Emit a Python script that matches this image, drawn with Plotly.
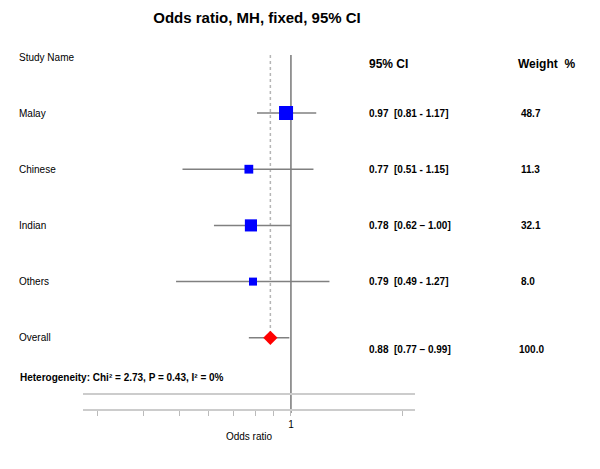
import math
import plotly.graph_objects as go

studies = ['Malay', 'Chinese', 'Indian', 'Others']
odds = [0.97, 0.77, 0.78, 0.79]
ci_low = [0.81, 0.51, 0.62, 0.49]
ci_high = [1.17, 1.15, 1.00, 1.27]
weights = [48.7, 11.3, 32.1, 8.0]

overall_or = 0.88
overall_low = 0.77
overall_high = 0.99
overall_weight = 100.0

ci_labels = ['0.97  [0.81 - 1.17]', '0.77  [0.51 - 1.15]', '0.78  [0.62 \u2013 1.00]', '0.79  [0.49 - 1.27]']
overall_ci_label = '0.88  [0.77 \u2013 0.99]'
heterogeneity = 'Heterogeneity: Chi\u00b2 = 2.73, P = 0.43, I\u00b2 = 0%'

tick_vals = [0.3, 0.4, 0.5, 0.6, 0.7, 0.8, 0.9, 1, 2]
tick_text = ['', '', '', '', '', '', '', '1', '']

FONT = 'Liberation Sans, Arial, sans-serif'
OFF = 8  # default body margin of the html page
W, H = 600 - OFF, 469 - OFF
L, R, B = 83 - OFF, 185, 60
PH = H - B  # plot height in px
ROW0, ROW_STEP = 113 - OFF, 56.2


def px_x(p):
    return (p - OFF - L) / (W - L - R)


def px_y(p):
    return 1 - (p - OFF) / PH


rows = list(range(len(studies)))
overall_row = len(studies)

fig = go.Figure()

# study estimates with CI lines
fig.add_trace(go.Scatter(
    x=odds, y=rows, mode='markers',
    marker=dict(symbol='square', color='#0000ff', opacity=1,
                size=[3.9 + 1.45 * math.sqrt(w) for w in weights], line=dict(width=0)),
    error_x=dict(type='data', symmetric=False,
                 array=[h - o for h, o in zip(ci_high, odds)],
                 arrayminus=[o - l for o, l in zip(odds, ci_low)],
                 color='#808080', thickness=1.5, width=0),
    showlegend=False, hoverinfo='skip'))

# overall diamond
fig.add_trace(go.Scatter(
    x=[overall_or], y=[overall_row], mode='markers',
    marker=dict(symbol='diamond', color='#ff0000', size=11, opacity=1, line=dict(width=0)),
    error_x=dict(type='data', symmetric=False,
                 array=[overall_high - overall_or], arrayminus=[overall_or - overall_low],
                 color='#808080', thickness=1.5, width=0),
    showlegend=False, hoverinfo='skip'))

# reference lines
fig.add_shape(type='line', xref='x', yref='paper', x0=overall_or, x1=overall_or,
              y0=px_y(55), y1=px_y(332), line=dict(color='#b5b5b5', width=1.5, dash='dot'), layer='below')
fig.add_shape(type='line', xref='x', yref='paper', x0=1, x1=1,
              y0=px_y(55), y1=px_y(413), line=dict(color='#555555', width=1.2), layer='below')
fig.add_shape(type='line', xref='paper', yref='paper', x0=0, x1=1,
              y0=px_y(394), y1=px_y(394), line=dict(color='#cccccc', width=2), layer='below')

ann = []
ann.append(dict(text='Study Name', x=px_x(17), y=px_y(57), font=dict(size=10)))
ann.append(dict(text='<b>95% CI</b>', x=px_x(367), y=px_y(64), font=dict(size=12)))
ann.append(dict(text='<b>Weight  %</b>', x=px_x(516), y=px_y(64), font=dict(size=12)))
for i, name in enumerate(studies + ['Overall']):
    ann.append(dict(text=name, x=px_x(17), y=i, yref='y', font=dict(size=10)))
for i, lab in enumerate(ci_labels):
    ann.append(dict(text='<b>' + lab + '</b>', x=px_x(367), y=i, yref='y', font=dict(size=10)))
    ann.append(dict(text='<b>%.1f</b>' % weights[i], x=px_x(519), y=i, yref='y', font=dict(size=10)))
ann.append(dict(text='<b>' + overall_ci_label + '</b>', x=px_x(367), y=overall_row, yref='y',
                yshift=-12, font=dict(size=10)))
ann.append(dict(text='<b>%.1f</b>' % overall_weight, x=px_x(517), y=overall_row, yref='y',
                yshift=-12, font=dict(size=10)))
ann.append(dict(text='<b>' + heterogeneity + '</b>', x=px_x(18), y=px_y(377), font=dict(size=10)))

for a in ann:
    a.setdefault('yref', 'paper')
    a.update(xref='paper', xanchor='left', yanchor='middle', showarrow=False)
    a['font'].update(color='black', family=FONT)

fig.update_layout(
    width=W, height=H,
    margin=dict(l=L, r=R, t=0, b=B),
    paper_bgcolor='white', plot_bgcolor='white',
    font=dict(family=FONT, color='black', size=10),
    title=dict(text='<b>Odds ratio, MH, fixed, 95% CI</b>', x=(257 - OFF) / W, xanchor='center',
               y=1 - (18 - OFF) / H, yanchor='middle', font=dict(size=15, color='black')),
    annotations=ann,
    xaxis=dict(type='log', range=[math.log10(0.275), math.log10(2.16)],
               tickvals=tick_vals, ticktext=tick_text, ticks='outside', ticklen=5,
               tickcolor='#bbbbbb', showline=True, linecolor='#cccccc', linewidth=1.5,
               showgrid=False, zeroline=False,
               title=dict(text='Odds ratio', standoff=4, font=dict(size=10))),
    yaxis=dict(range=[(PH - ROW0) / ROW_STEP, -ROW0 / ROW_STEP], visible=False, showgrid=False),
)

fig.write_html('out.html')
